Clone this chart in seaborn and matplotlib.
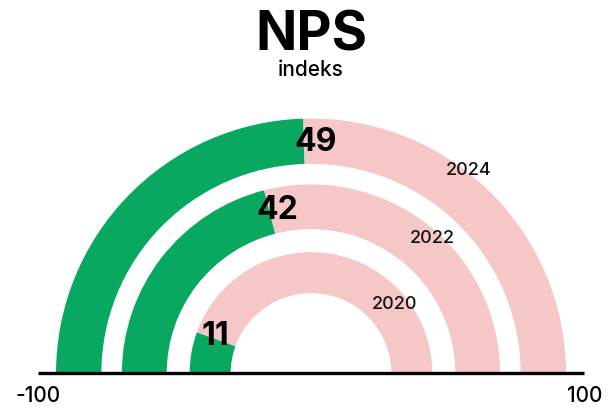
"""NPS indeks: polukružni prikaz po godinama."""

import matplotlib.pyplot as plt
import numpy as np
import seaborn as sns
from matplotlib.patches import Wedge

YEARS = ["2020", "2022", "2024"]
NPS = [11, 42, 49]
AXIS_RANGE = [-100, 100]
TITLE = "NPS"
SUBTITLE = "indeks"

GREEN = "#08A860"
PINK = "#F6C7C7"

# ring geometry in data units (baseline spans -100..100)
OUTER_R = [44.4, 69.2, 93.3]
RING_W = [15.0, 16.4, 16.6]
YEAR_POS = [(40.2, 40.2), (67.1, 48.5), (94.5, 52.4)]  # (radius, angle)
LABEL_SHIFT = 3.0  # degrees past the green edge


def to_xy(r, deg):
    rad = np.deg2rad(deg)
    return r * np.cos(rad), r * np.sin(rad)


def main() -> None:
    sns.set_theme(style="white")
    plt.rcParams["font.family"] = ["Inter", "DejaVu Sans"]
    plt.rcParams["text.color"] = "black"

    fig = plt.figure(figsize=(6.13, 4.08), dpi=100)
    ax = fig.add_axes([0, 0, 1, 1])
    px = 2.733  # pixels per data unit
    cx, cy = 311, 373.5
    ax.set_xlim(-cx / px, (613 - cx) / px)
    ax.set_ylim(-(408 - cy) / px, cy / px)
    ax.set_aspect("equal")
    ax.axis("off")

    for year, value, r, w, (yr, ya) in zip(YEARS, NPS, OUTER_R, RING_W, YEAR_POS):
        edge = 180 - value / 100 * 180
        ax.add_patch(Wedge((0, 0), r, 0, edge, width=w, color=PINK, lw=0))
        ax.add_patch(Wedge((0, 0), r, edge, 180, width=w, color=GREEN, lw=0))

        lx, ly = to_xy(r - w / 2 + 1, edge - LABEL_SHIFT)
        ax.text(lx, ly, str(value), ha="center", va="center_baseline",
                fontsize=23, fontweight="bold", color="black")
        tx, ty = to_xy(yr, ya)
        ax.text(tx, ty, year, ha="center", va="center_baseline",
                fontsize=13, fontweight="medium", color="#111111")

    ax.plot(AXIS_RANGE, [0, 0], color="black", lw=2.4, solid_capstyle="butt")
    for v in AXIS_RANGE:
        ax.text(v, -8.4, str(v), ha="center", va="center", fontsize=15,
                fontweight="medium", color="black")

    fig.text(311 / 613, 1 - 36 / 408, TITLE, ha="center", va="center",
             fontsize=39, fontweight="bold", color="black")
    fig.text(311 / 613, 1 - 70 / 408, SUBTITLE, ha="center", va="center",
             fontsize=15, fontweight="medium", color="black")

    fig.savefig("out.png", dpi=100)
    plt.close(fig)


if __name__ == "__main__":
    main()
